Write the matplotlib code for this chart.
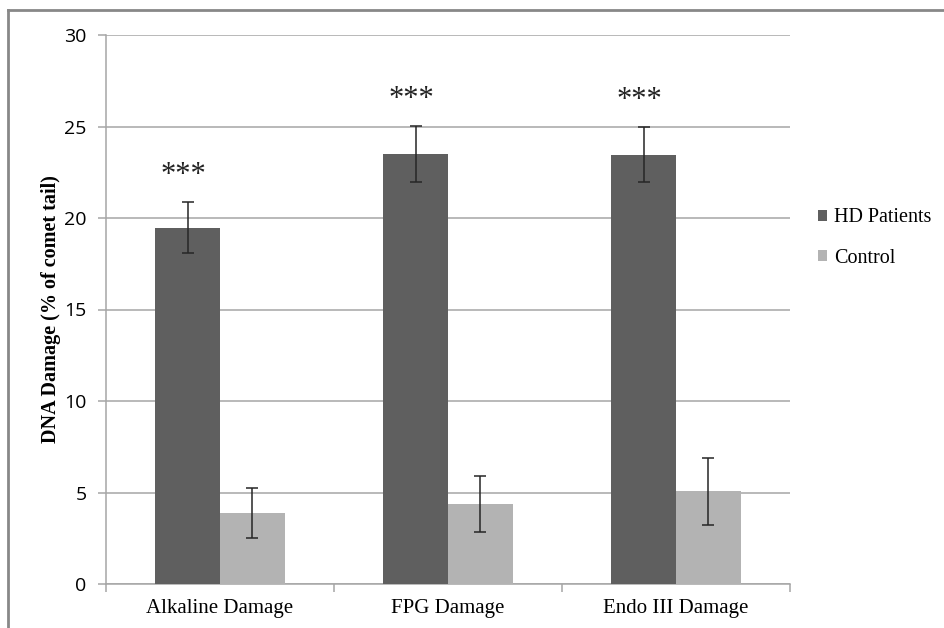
import matplotlib
matplotlib.use("Agg")
import matplotlib.pyplot as plt
import numpy as np
from matplotlib.patches import Patch
from matplotlib.lines import Line2D
from matplotlib.font_manager import FontProperties

categories = ["Alkaline Damage", "FPG Damage", "Endo III Damage"]
hd_values = [19.47, 23.5, 23.45]
hd_errors = [1.38, 1.53, 1.5]
control_values = [3.86, 4.37, 5.08]
control_errors = [1.37, 1.55, 1.83]
series_names = ["HD Patients", "Control"]
significance = ["***", "***", "***"]
yticks = [0, 5, 10, 15, 20, 25, 30]

hd_color = "#5f5f5f"
ctrl_color = "#b3b3b3"
axis_grey = "#a6a6a6"

fig = plt.figure(figsize=(9.45, 6.28), dpi=100)
ax = fig.add_axes([106/945, 1-584/628, (790-106)/945, (584-35)/628])

x = np.arange(len(categories))
w = 0.285
ax.bar(x - w/2, hd_values, w, color=hd_color, yerr=hd_errors,
       error_kw=dict(ecolor="#262626", elinewidth=1.1, capsize=4, capthick=1.1), zorder=3)
ax.bar(x + w/2, control_values, w, color=ctrl_color, yerr=control_errors,
       error_kw=dict(ecolor="#262626", elinewidth=1.1, capsize=4, capthick=1.1), zorder=3)

for i, s in enumerate(significance):
    ax.text(x[i] - w/2 - 0.02, hd_values[i] + hd_errors[i] + 1.45, s,
            ha="center", va="center", fontsize=22, family="Liberation Serif", color="#222222")

ax.set_xlim(-0.5, 2.5)
ax.set_ylim(0, 30)
ax.set_yticks(yticks)
ax.set_yticklabels([str(t) for t in yticks], fontsize=14, family="Open Sans")
ax.yaxis.grid(True, color=axis_grey, linewidth=1.1, zorder=0)
ax.set_axisbelow(True)

ax.set_xticks(x)
ax.set_xticklabels(categories, fontsize=15, family="Liberation Serif")
ax.tick_params(axis="x", length=0, pad=11)
ax.set_xticks([-0.5, 0.5, 1.5, 2.5], minor=True)
ax.tick_params(axis="x", which="minor", length=6, color=axis_grey, width=1.1, direction="out")
ax.tick_params(axis="y", length=6, color=axis_grey, width=1.1, pad=8)

for side in ["top", "right"]:
    ax.spines[side].set_visible(False)
for side in ["left", "bottom"]:
    ax.spines[side].set_color(axis_grey)
    ax.spines[side].set_linewidth(1.1)

ax.set_ylabel("DNA Damage (% of comet tail)", fontsize=14.5, family="Liberation Serif",
              fontweight="bold", labelpad=2)

handles = [Patch(facecolor=hd_color, edgecolor="none"), Patch(facecolor=ctrl_color, edgecolor="none")]
fig.legend(handles, series_names, loc="center left", bbox_to_anchor=(800/945, 1-238/628),
           frameon=False, handlelength=0.45, handleheight=0.45, handletextpad=0.35,
           labelspacing=1.05, prop=FontProperties(family="Liberation Serif", size=14.5))

fig.add_artist(Line2D([8/945, 8/945], [0, 1-10/628], transform=fig.transFigure,
                      color="#888888", linewidth=2))
fig.add_artist(Line2D([8/945, 1], [1-10/628, 1-10/628], transform=fig.transFigure,
                      color="#888888", linewidth=2))

fig.savefig("out.png", dpi=100)
